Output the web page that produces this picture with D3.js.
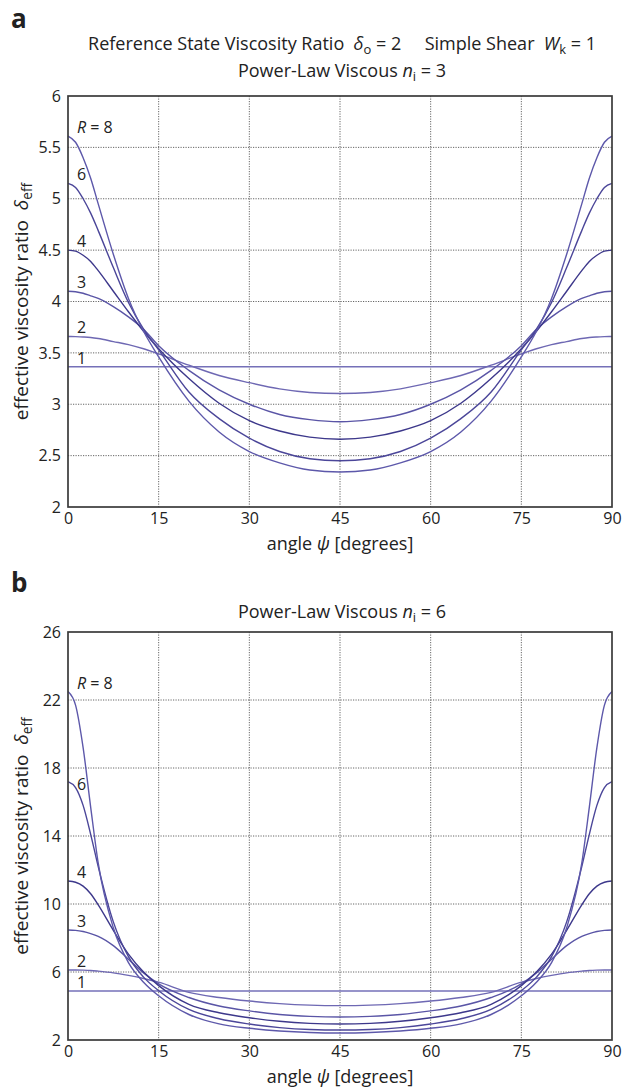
<!DOCTYPE html>
<html>
<head>
<meta charset="utf-8">
<script src="https://cdn.jsdelivr.net/npm/d3@7"></script>
<style>
  body { margin: 0; background: #fff; }
  text { font-family: "Open Sans", "Noto Sans", sans-serif; fill: #222; white-space: pre; }
</style>
</head>
<body>
<div id="chart"></div>
<script>
// angle psi in degrees (denser near the edges where curves are steep)
const angles = [0, 1.25, 2.5, 3.75, 5, 7.5, 10, 12.5, 15, 20, 25, 30, 35, 40, 45,
  50, 55, 60, 65, 70, 75, 77.5, 80, 82.5, 85, 86.25, 87.5, 88.75, 90];

const ratios = [1, 2, 3, 4, 6, 8];

// panel a: power-law viscous n_i = 3
const a_R1 = [3.365, 3.365, 3.365, 3.365, 3.365, 3.365, 3.365, 3.365, 3.365, 3.365, 3.365, 3.365, 3.365, 3.365, 3.365,
  3.365, 3.365, 3.365, 3.365, 3.365, 3.365, 3.365, 3.365, 3.365, 3.365, 3.365, 3.365, 3.365, 3.365];
const a_R2 = [3.66, 3.658, 3.655, 3.65, 3.64, 3.61, 3.58, 3.54, 3.49, 3.38, 3.28, 3.21, 3.15, 3.115, 3.105,
  3.115, 3.15, 3.21, 3.28, 3.38, 3.49, 3.54, 3.58, 3.61, 3.64, 3.65, 3.655, 3.658, 3.66];
const a_R3 = [4.10, 4.095, 4.08, 4.055, 4.03, 3.95, 3.85, 3.73, 3.57, 3.33, 3.14, 3.00, 2.90, 2.85, 2.83,
  2.85, 2.90, 3.00, 3.14, 3.33, 3.57, 3.73, 3.85, 3.95, 4.03, 4.055, 4.08, 4.095, 4.10];
const a_R4 = [4.50, 4.49, 4.45, 4.39, 4.30, 4.10, 3.90, 3.71, 3.54, 3.25, 3.01, 2.84, 2.74, 2.68, 2.66,
  2.68, 2.74, 2.84, 3.01, 3.25, 3.54, 3.71, 3.90, 4.10, 4.30, 4.39, 4.45, 4.49, 4.50];
const a_R6 = [5.15, 5.11, 5.00, 4.86, 4.69, 4.33, 3.99, 3.73, 3.53, 3.12, 2.86, 2.67, 2.54, 2.47, 2.45,
  2.47, 2.54, 2.67, 2.86, 3.12, 3.53, 3.73, 3.99, 4.33, 4.69, 4.86, 5.00, 5.11, 5.15];
const a_R8 = [5.61, 5.55, 5.40, 5.20, 4.95, 4.46, 4.03, 3.71, 3.46, 3.03, 2.73, 2.54, 2.43, 2.36, 2.34,
  2.36, 2.43, 2.54, 2.73, 3.03, 3.46, 3.71, 4.03, 4.46, 4.95, 5.20, 5.40, 5.55, 5.61];

// panel b: power-law viscous n_i = 6
const b_R1 = [4.88, 4.88, 4.88, 4.88, 4.88, 4.88, 4.88, 4.88, 4.88, 4.88, 4.88, 4.88, 4.88, 4.88, 4.88,
  4.88, 4.88, 4.88, 4.88, 4.88, 4.88, 4.88, 4.88, 4.88, 4.88, 4.88, 4.88, 4.88, 4.88];
const b_R2 = [6.12, 6.12, 6.11, 6.09, 6.05, 5.95, 5.80, 5.62, 5.40, 4.80, 4.50, 4.29, 4.14, 4.05, 4.02,
  4.05, 4.14, 4.29, 4.50, 4.80, 5.40, 5.62, 5.80, 5.95, 6.05, 6.09, 6.11, 6.12, 6.12];
const b_R3 = [8.47, 8.45, 8.38, 8.26, 8.10, 7.55, 6.75, 5.95, 5.30, 4.50, 4.00, 3.71, 3.50, 3.39, 3.35,
  3.39, 3.50, 3.71, 4.00, 4.50, 5.30, 5.95, 6.75, 7.55, 8.10, 8.26, 8.38, 8.45, 8.47];
const b_R4 = [11.35, 11.28, 11.05, 10.6, 9.95, 8.45, 7.05, 6.00, 5.20, 4.10, 3.60, 3.31, 3.10, 2.98, 2.94,
  2.98, 3.10, 3.31, 3.60, 4.10, 5.20, 6.00, 7.05, 8.45, 9.95, 10.6, 11.05, 11.28, 11.35];
const b_R6 = [17.2, 16.85, 15.8, 14.1, 12.2, 8.95, 6.90, 5.70, 4.90, 3.80, 3.25, 2.94, 2.73, 2.62, 2.59,
  2.62, 2.73, 2.94, 3.25, 3.80, 4.90, 5.70, 6.90, 8.95, 12.2, 14.1, 15.8, 16.85, 17.2];
const b_R8 = [22.5, 21.7, 19.2, 15.7, 12.4, 8.60, 6.55, 5.40, 4.60, 3.50, 2.95, 2.69, 2.53, 2.44, 2.41,
  2.44, 2.53, 2.69, 2.95, 3.50, 4.60, 5.40, 6.55, 8.60, 12.4, 15.7, 19.2, 21.7, 22.5];

const xTicks = [0, 15, 30, 45, 60, 75, 90];
const a_yTicks = [2, 2.5, 3, 3.5, 4, 4.5, 5, 5.5, 6];
const b_yTicks = [2, 6, 10, 14, 18, 22, 26];

const lineColors = ["#7570b8", "#6e68b3", "#5a55a6", "#3d388b", "#4b4699", "#5d58aa"];

const width = 634, height = 1092;
const svg = d3.select("#chart").append("svg")
    .attr("width", width)
    .attr("height", height);

// helper: text made of pieces [string, style] where style is "i" italic or "sub"
function richText(g, x, y, parts, size, anchor) {
    const t = g.append("text")
        .attr("x", x).attr("y", y)
        .attr("font-size", size)
        .attr("text-anchor", anchor || "middle");
    parts.forEach(p => {
        const s = t.append("tspan").text(p[0]);
        if (p[1] === "i") s.attr("font-style", "italic");
        if (p[1] === "sub") {
            s.attr("font-size", size * 0.72).attr("baseline-shift", "-28%");
        }
    });
    return t;
}

function drawPanel(opts) {
    const left = 68, right = 612;
    const x = d3.scaleLinear().domain([0, 90]).range([left, right]);
    const y = d3.scaleLinear().domain(opts.yDomain).range([opts.bottom, opts.top]);

    const g = svg.append("g");

    // grid
    g.selectAll(".vgrid")
        .data(xTicks.slice(1, -1))
        .enter().append("line")
        .attr("x1", d => x(d)).attr("x2", d => x(d))
        .attr("y1", opts.top).attr("y2", opts.bottom)
        .attr("stroke", "#555").attr("stroke-width", 0.9)
        .attr("stroke-dasharray", "1.2,1.3");
    g.selectAll(".hgrid")
        .data(opts.yTicks.slice(1, -1))
        .enter().append("line")
        .attr("x1", left).attr("x2", right)
        .attr("y1", d => y(d)).attr("y2", d => y(d))
        .attr("stroke", "#555").attr("stroke-width", 0.9)
        .attr("stroke-dasharray", "1.2,1.3");

    // curves
    const line = d3.line()
        .x((d, i) => x(angles[i]))
        .y(d => y(d))
        .curve(d3.curveMonotoneX);
    opts.series.forEach((s, k) => {
        g.append("path")
            .attr("d", line(s))
            .attr("fill", "none")
            .attr("stroke", lineColors[k])
            .attr("stroke-width", 1.4);
    });

    // frame
    g.append("rect")
        .attr("x", left).attr("y", opts.top)
        .attr("width", right - left).attr("height", opts.bottom - opts.top)
        .attr("fill", "none").attr("stroke", "#3a3a3a").attr("stroke-width", 1.7);

    // axes (labels only)
    const yAxis = g.append("g")
        .attr("transform", `translate(${left},0)`)
        .call(d3.axisLeft(y).tickValues(opts.yTicks).tickSize(0).tickPadding(7).tickFormat(d3.format("")));
    yAxis.select(".domain").remove();
    yAxis.selectAll("text").attr("font-size", 16).attr("fill", "#222")
        .attr("font-family", "\"Open Sans\", sans-serif");

    const xAxis = g.append("g")
        .attr("transform", `translate(0,${opts.bottom})`)
        .call(d3.axisBottom(x).tickValues(xTicks).tickSize(0).tickPadding(6));
    xAxis.select(".domain").remove();
    xAxis.selectAll("text").attr("font-size", 16).attr("fill", "#222")
        .attr("font-family", "\"Open Sans\", sans-serif");

    // curve labels at psi = 0
    opts.series.forEach((s, k) => {
        const dy = (opts.name === "b" && ratios[k] === 6) ? 8 : -3;
        const parts = k === ratios.length - 1 ? [["R", "i"], [" = 8"]] : [[String(ratios[k])]];
        richText(g, left + 9, y(s[0]) + dy, parts, 16, "start");
    });

    // axis titles
    richText(g, 340, opts.bottom + 43, [["angle "], ["\u03c8", "i"], [" [degrees]"]], 18);
    const cy = (opts.top + opts.bottom) / 2;
    richText(g, 0, 0, [["effective viscosity ratio  "], ["\u03b4", "i"], ["eff", "sub"]], 19)
        .attr("transform", `translate(28,${cy}) rotate(-90)`);

    // panel letter
    svg.append("text")
        .attr("x", 11).attr("y", opts.letterY)
        .attr("font-size", 26).attr("font-weight", "bold")
        .attr("font-family", "\"Open Sans\", sans-serif")
        .text(opts.name);
}

// headings
richText(svg, 342, 50, [["Reference State Viscosity Ratio  "], ["\u03b4", "i"], ["o", "sub"],
    [" = 2     Simple Shear  "], ["W", "i"], ["k", "sub"], [" = 1"]], 18);
richText(svg, 342, 77, [["Power-Law Viscous "], ["n", "i"], ["i", "sub"], [" = 3"]], 18);
richText(svg, 342, 618, [["Power-Law Viscous "], ["n", "i"], ["i", "sub"], [" = 6"]], 18);

drawPanel({
    name: "a", top: 96, bottom: 507, yDomain: [2, 6], yTicks: a_yTicks, letterY: 28,
    series: [a_R1, a_R2, a_R3, a_R4, a_R6, a_R8]
});
drawPanel({
    name: "b", top: 632, bottom: 1040, yDomain: [2, 26], yTicks: b_yTicks, letterY: 592,
    series: [b_R1, b_R2, b_R3, b_R4, b_R6, b_R8]
});
</script>
</body>
</html>
